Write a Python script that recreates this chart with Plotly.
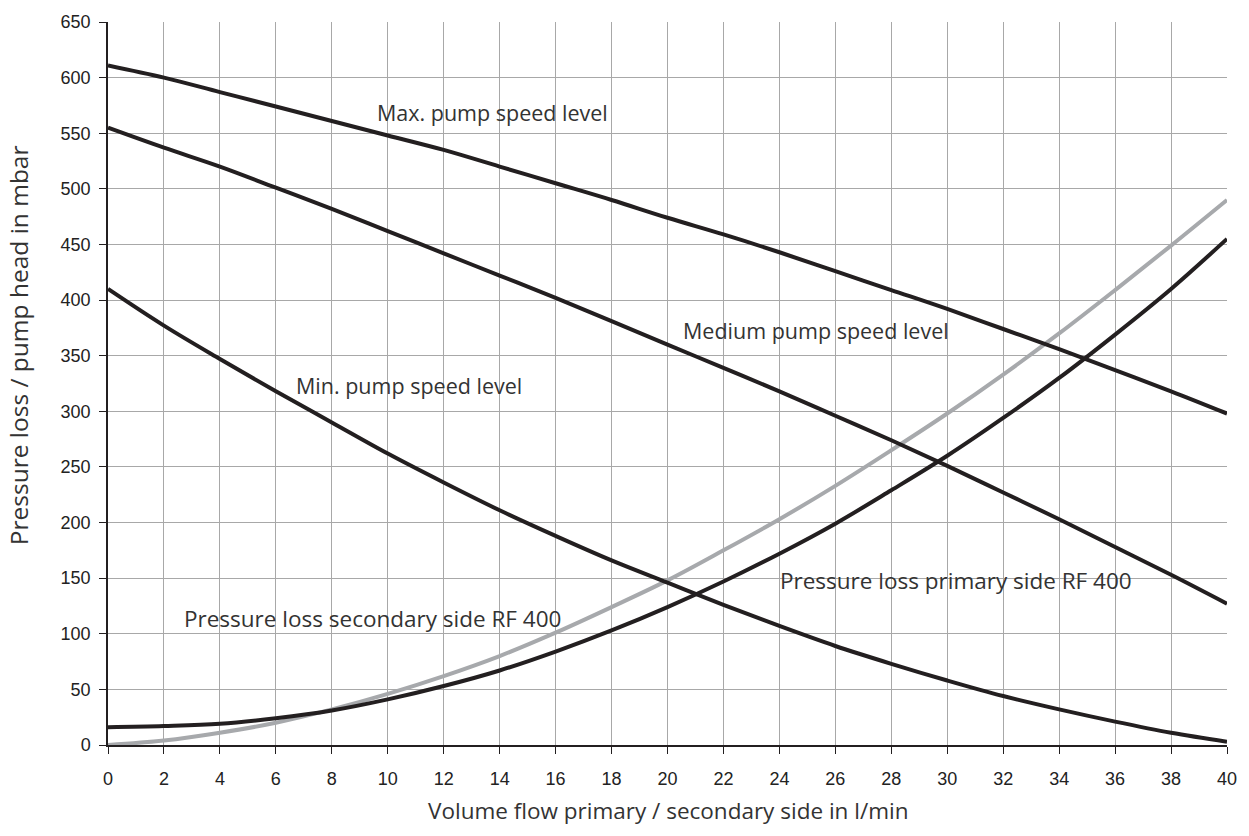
import plotly.graph_objects as go

flow = [0, 2, 4, 6, 8, 10, 12, 14, 16, 18, 20, 22, 24, 26, 28, 30, 32, 34, 36, 38, 40]

max_speed = [611, 600, 587, 574, 561, 548, 535, 520, 505, 490, 474, 459, 443, 426, 409, 392, 374, 356, 337, 318, 298]
medium_speed = [555, 537, 520, 501, 482, 462, 442, 422, 402, 381, 360, 339, 318, 296, 274, 251, 227, 203, 178, 153, 127]
min_speed = [410, 377, 347, 318, 290, 262, 236, 211, 188, 166, 146, 126, 107, 89, 73, 58, 44, 32, 21, 11, 3]
loss_primary = [16, 17, 19, 24, 31, 41, 53, 67, 84, 103, 124, 147, 172, 199, 229, 260, 294, 330, 369, 410, 455]
loss_secondary = [0, 4, 11, 20, 32, 46, 62, 80, 101, 124, 148, 175, 203, 233, 265, 298, 333, 370, 409, 449, 490]

x_ticks = list(range(0, 41, 2))
y_ticks = list(range(0, 651, 50))

labels = [
    ("Max. pump speed level", 9.55, 569, 21.5),
    ("Medium pump speed level", 20.5, 373, 21.5),
    ("Min. pump speed level", 6.66, 323, 21.5),
    ("Pressure loss secondary side RF 400", 2.63, 114, 22.5),
    ("Pressure loss primary side RF 400", 23.95, 148, 22.5),
]

x_title = "Volume flow primary / secondary side in l/min"
y_title = "Pressure loss / pump head in mbar"

BLACK = "#231f20"
GRAY = "#a7a9ac"
FAMILY = "Open Sans, Noto Sans, sans-serif"
TEXT_COLOR = "#333333"

fig = go.Figure()
series = [
    (loss_secondary, GRAY, "Pressure loss secondary side RF 400"),
    (loss_primary, BLACK, "Pressure loss primary side RF 400"),
    (min_speed, BLACK, "Min. pump speed level"),
    (medium_speed, BLACK, "Medium pump speed level"),
    (max_speed, BLACK, "Max. pump speed level"),
]
for ys, col, name in series:
    fig.add_trace(go.Scatter(x=flow, y=ys, mode="lines", name=name,
                             line=dict(color=col, width=4, shape="spline", smoothing=1.0),
                             showlegend=False, hoverinfo="skip"))

for text, x, y, size in labels:
    fig.add_annotation(x=x, y=y, text=text, showarrow=False, xanchor="left", yanchor="middle",
                       font=dict(family=FAMILY, size=size, color=TEXT_COLOR))

fig.add_annotation(xref="paper", yref="paper", x=0.5, y=0, yshift=-65, text=x_title,
                   showarrow=False, xanchor="center", yanchor="middle",
                   font=dict(family=FAMILY, size=22.5, color=TEXT_COLOR))
fig.add_annotation(xref="paper", yref="paper", x=0, xshift=-90, y=0.553, text=y_title,
                   textangle=-90, showarrow=False, xanchor="center", yanchor="middle",
                   font=dict(family=FAMILY, size=24.5, color=TEXT_COLOR))

fig.update_layout(
    width=1249, height=836,
    margin=dict(l=108, r=21, t=18, b=91),
    paper_bgcolor="white", plot_bgcolor="white",
    showlegend=False,
    font=dict(family="Liberation Sans, Arial, sans-serif", size=18, color="#222222"),
)
fig.update_xaxes(
    range=[0, 40], tickvals=x_ticks, ticktext=[str(v) for v in x_ticks],
    showgrid=True, gridcolor="#a8a8a8", gridwidth=1.2,
    showline=True, linecolor=BLACK, linewidth=1.5,
    ticks="outside", ticklen=7, tickcolor=BLACK, tickwidth=1.2,
    ticklabelstandoff=10,
    zeroline=False,
)
fig.update_yaxes(
    range=[0, 650], tickvals=y_ticks, ticktext=[str(v) for v in y_ticks],
    showgrid=True, gridcolor="#a8a8a8", gridwidth=1.2,
    showline=True, linecolor=BLACK, linewidth=1.5,
    ticks="outside", ticklen=7, tickcolor=BLACK, tickwidth=1.2,
    ticklabelstandoff=5,
    zeroline=False,
)

# remove the default 8px page margin so the figure fills the 1249x836 window exactly
fig.write_html("out.html", config={"displayModeBar": False},
               post_script="document.body.style.margin='0';")
